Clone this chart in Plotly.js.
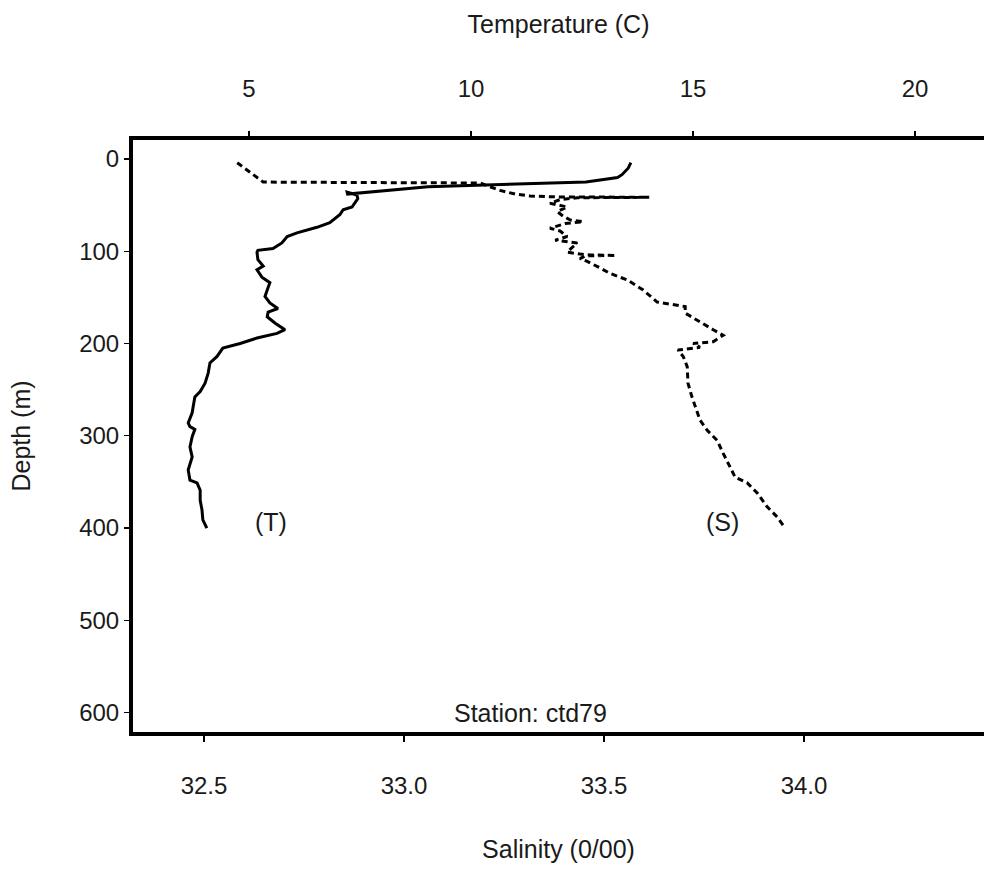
<!DOCTYPE html>
<html>
<head>
<meta charset="utf-8">
<script src="https://cdn.plot.ly/plotly-3.0.1.min.js"></script>
<style>html,body{margin:0;padding:0;background:#fff;overflow:hidden}</style>
</head>
<body>
<div id="chart" style="width:984px;height:869px"></div>
<script>
// Temperature profile (C) vs depth (m)
const tempDepth = [4, 10, 17, 20, 25, 30, 38, 36, 39, 43, 52, 55, 60, 66, 69, 74, 80, 84, 91, 97, 99, 101, 109, 116, 120, 128, 134, 142, 149, 156, 162, 166, 171, 178, 185, 189, 194, 200, 205, 214, 221, 232, 243, 252, 258, 269, 275, 286, 290, 293, 301, 312, 323, 337, 348, 351, 359, 370, 380, 391, 400];
const tempValues = [13.60, 13.54, 13.40, 13.30, 12.59, 9.03, 7.22, 7.21, 7.43, 7.45, 7.32, 7.12, 7.05, 6.89, 6.82, 6.53, 6.08, 5.86, 5.74, 5.54, 5.20, 5.18, 5.20, 5.32, 5.18, 5.29, 5.47, 5.41, 5.36, 5.47, 5.65, 5.43, 5.41, 5.59, 5.81, 5.63, 5.18, 4.80, 4.41, 4.28, 4.12, 4.08, 4.01, 3.90, 3.78, 3.74, 3.72, 3.63, 3.67, 3.78, 3.72, 3.67, 3.72, 3.63, 3.67, 3.83, 3.90, 3.90, 3.94, 3.96, 4.05];

// Salinity profile (0/00) vs depth (m)
const salDepth = [4, 14, 25, 25.5, 26, 30, 34, 38, 40, 41, 41, 41, 41.5, 42, 44, 48, 52, 57, 62, 66, 68, 70, 75, 78, 84, 88, 91, 96, 101, 103, 104, 104.5, 105, 108, 111, 118, 124, 131, 142, 155, 158, 160, 167, 177, 185, 191, 195, 198, 200, 204, 207, 214, 225, 243, 258, 275, 283, 294, 305, 319, 334, 345, 351, 362, 377, 388, 397, 400];
const salValues = [32.583, 32.615, 32.648, 32.90, 33.19, 33.215, 33.24, 33.278, 33.315, 33.365, 33.433, 33.515, 33.613, 33.433, 33.39, 33.365, 33.408, 33.383, 33.398, 33.415, 33.448, 33.403, 33.365, 33.39, 33.408, 33.378, 33.433, 33.42, 33.408, 33.44, 33.465, 33.53, 33.453, 33.44, 33.458, 33.49, 33.515, 33.558, 33.598, 33.633, 33.673, 33.703, 33.703, 33.74, 33.773, 33.798, 33.785, 33.773, 33.723, 33.74, 33.685, 33.698, 33.708, 33.71, 33.72, 33.733, 33.74, 33.758, 33.783, 33.798, 33.815, 33.828, 33.858, 33.883, 33.908, 33.933, 33.948, 33.953];

const depthTicks = [0, 100, 200, 300, 400, 500, 600];
const tempTicks = [5, 10, 15, 20];
const salTicks = [32.5, 33.0, 33.5, 34.0];
const salTickText = ['32.5', '33.0', '33.5', '34.0'];

const FONT = 'Liberation Sans, Arial, Helvetica, sans-serif';
const INK = '#1a1a1a';
const TICKF = {family: FONT, size: 24, color: INK};
const TITLEF = {family: FONT, size: 25, color: INK};

const traces = [
  {
    name: 'Temperature (T)',
    x: tempValues, y: tempDepth,
    xaxis: 'x2', yaxis: 'y',
    mode: 'lines',
    line: {color: '#000', width: 3},
    hoverinfo: 'x+y'
  },
  {
    name: 'Salinity (S)',
    x: salValues, y: salDepth,
    xaxis: 'x', yaxis: 'y',
    mode: 'lines',
    line: {color: '#000', width: 3, dash: '6px,4px'},
    hoverinfo: 'x+y'
  }
];

const layout = {
  width: 984, height: 869,
  margin: {l: 133, r: 0, t: 140, b: 137},
  paper_bgcolor: '#fff', plot_bgcolor: '#fff',
  showlegend: false,
  font: {family: FONT, size: 24, color: INK},
  xaxis: {
    range: [32.3225, 34.45],
    tickvals: salTicks, ticktext: salTickText,
    ticks: 'outside', ticklen: 6, tickwidth: 1.2, tickcolor: '#000',
    showline: true, linewidth: 4, linecolor: '#000',
    showgrid: false, zeroline: false,
    ticklabelstandoff: 23,
    tickfont: TICKF,
    title: {text: 'Salinity (0/00)', font: TITLEF, standoff: 44},
    automargin: false
  },
  xaxis2: {
    overlaying: 'x', side: 'top',
    range: [2.387, 21.554],
    tickvals: tempTicks,
    ticks: 'outside', ticklen: 5, tickwidth: 1.2, tickcolor: '#000',
    showline: true, linewidth: 4, linecolor: '#000',
    showgrid: false, zeroline: false,
    ticklabelstandoff: 24,
    tickfont: TICKF,
    title: {text: 'Temperature (C)', font: TITLEF, standoff: 36},
    automargin: false
  },
  yaxis: {
    range: [621, -20.6],
    tickvals: depthTicks,
    ticks: 'outside', ticklen: 5, tickwidth: 1.2, tickcolor: '#000',
    showline: true, linewidth: 4, linecolor: '#000',
    showgrid: false, zeroline: false,
    ticklabelstandoff: 0,
    tickfont: TICKF,
    title: {text: 'Depth (m)', font: TITLEF, standoff: 42},
    automargin: false
  },
  annotations: [
    {text: '(T)', x: 5.5, y: 393, xref: 'x2', yref: 'y', showarrow: false, font: TITLEF},
    {text: '(S)', x: 33.795, y: 393, xref: 'x', yref: 'y', showarrow: false, font: TITLEF},
    {text: 'Station: ctd79', x: 33.315, y: 600, xref: 'x', yref: 'y', showarrow: false, font: TITLEF}
  ]
};

Plotly.newPlot('chart', traces, layout, {displayModeBar: false, staticPlot: true});
</script>
</body>
</html>
